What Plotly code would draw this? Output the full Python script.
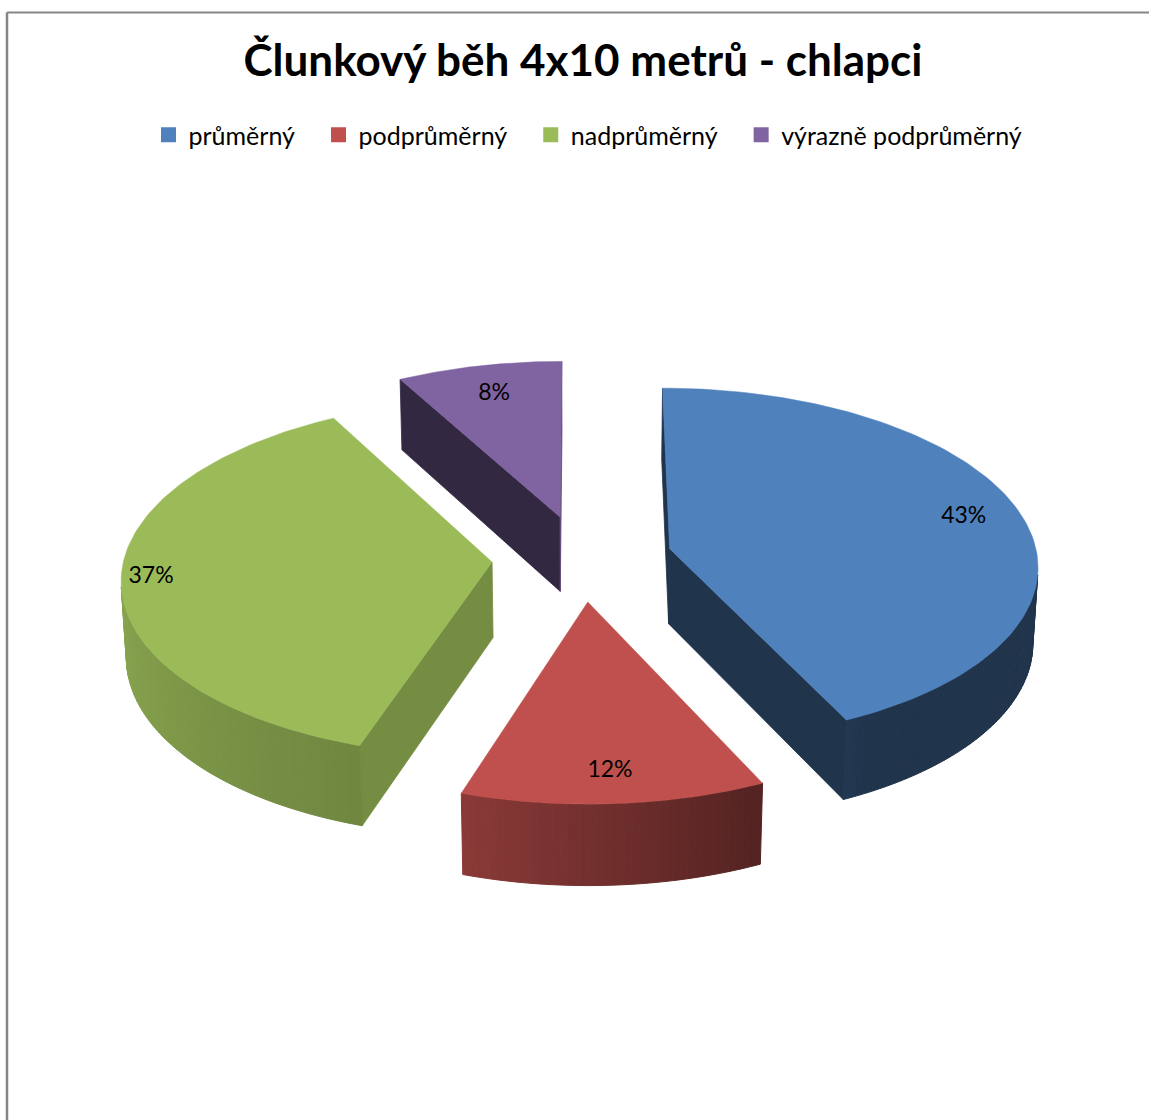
import numpy as np
import plotly.graph_objects as go

# ---- data -------------------------------------------------------------
categories = ["průměrný", "podprůměrný", "nadprůměrný", "výrazně podprůměrný"]
values = [43, 12, 37, 8]
value_labels = ["43%", "12%", "37%", "8%"]
colors = ["#4F81BD", "#C0504D", "#9BBB59", "#8064A2"]
title_text = "Člunkový běh 4x10 metrů - chlapci"

# ---- canvas / camera settings ----------------------------------------
W, H = 1149, 1120
CX, CY = 582, 558          # screen position of the pie centre
SCALE = 368                # pixels per unit radius at the centre depth
DIST = 10.0                # camera distance (unit radii)
ELEV = np.radians(28.6)    # viewing elevation
EXPLODE = 0.245            # slice explosion (unit radii)
THICK = 0.236              # pie thickness (unit radii)
LABEL_R = [0.84, 0.85, 0.92, 0.80]   # label radius on each top face

COS_E, SIN_E = np.cos(ELEV), np.sin(ELEV)
CAM = np.array([0.0, DIST * COS_E, DIST * SIN_E])


def project(u, v, h):
    """Perspective projection of world point (u right, v toward viewer, h up)."""
    depth = DIST - (v * COS_E + h * SIN_E)
    f = SCALE * DIST / depth
    yc = -v * SIN_E + h * COS_E
    return CX + f * u, CY - f * yc


def shade(hex_color, k):
    r, g, b = (int(hex_color[i:i + 2], 16) for i in (1, 3, 5))
    return "rgb({},{},{})".format(*(int(round(min(255, c * k))) for c in (r, g, b)))


def side_factor(deg):
    """Brightness of the curved outer wall as a function of its angle."""
    pts = [(0, 0.40), (150, 0.40), (198, 0.72), (270, 0.90), (360, 0.95)]
    xs, ys = zip(*pts)
    return float(np.interp(deg % 360, xs, ys))


def radial_factor(nu):
    """Brightness of a flat cut face from the x part of its normal."""
    return 0.40 + 0.37 * max(0.0, nu)


def visible(normal, point):
    return float(np.dot(normal, CAM - np.asarray(point))) > 0


fig = go.Figure()


def add_poly(pts, color, lw=0.8):
    xs, ys = zip(*[project(*p) for p in pts])
    fig.add_trace(go.Scatter(
        x=list(xs) + [xs[0]], y=list(ys) + [ys[0]], mode="lines",
        fill="toself", fillcolor=color, line=dict(color=color, width=lw),
        hoverinfo="skip", showlegend=False))


total = float(sum(values))
bounds = np.concatenate([[0.0], np.cumsum(values) / total * 2 * np.pi])

slices = []
for i, val in enumerate(values):
    t1, t2 = bounds[i], bounds[i + 1]
    tm = 0.5 * (t1 + t2)
    ou, ov = EXPLODE * np.sin(tm), -EXPLODE * np.cos(tm)
    depth = DIST - (ov + 0.5 * -np.cos(tm)) * COS_E
    slices.append((depth, i, t1, t2, tm, ou, ov))

# paint from the back to the front
slices.sort(key=lambda s: -s[0])
label_pts = []
for depth, i, t1, t2, tm, ou, ov in slices:
    col = colors[i]

    def rim(t, h, rho=1.0):
        return (ou + rho * np.sin(t), ov - rho * np.cos(t), h)

    apex_top, apex_bot = (ou, ov, 0.0), (ou, ov, -THICK)

    # flat cut faces
    for t, sgn in ((t1, -1), (t2, 1)):
        n = np.array([sgn * np.cos(t), sgn * np.sin(t), 0.0])
        if visible(n, apex_top):
            add_poly([apex_top, rim(t, 0), rim(t, -THICK), apex_bot],
                     shade(col, radial_factor(n[0])))

    # curved outer wall, in thin strips for the shading
    n_strips = max(2, int(np.degrees(t2 - t1) / 1.0))
    edges = np.linspace(t1, t2, n_strips + 1)
    for a, b in zip(edges[:-1], edges[1:]):
        m = 0.5 * (a + b)
        n = np.array([np.sin(m), -np.cos(m), 0.0])
        if visible(n, rim(m, -THICK / 2)):
            add_poly([rim(a, 0), rim(b, 0), rim(b, -THICK), rim(a, -THICK)],
                     shade(col, side_factor(np.degrees(m))), lw=1.0)

    # top face
    arc = np.linspace(t1, t2, 120)
    add_poly([apex_top] + [rim(t, 0) for t in arc], col, lw=0.5)

    label_pts.append((i, project(*rim(tm, 0, LABEL_R[i]))))

label_pts.sort()
fig.add_trace(go.Scatter(
    x=[p[1][0] for p in label_pts], y=[p[1][1] for p in label_pts],
    mode="text", text=[value_labels[p[0]] for p in label_pts],
    textfont=dict(family="Lato", size=23, color="#000000"),
    hoverinfo="skip", showlegend=False))

# legend entries (non-breaking spaces widen the gap between entries)
PAD = "\u00a0" * 3
for k, (cat, col) in enumerate(zip(categories, colors)):
    fig.add_trace(go.Scatter(
        x=[None], y=[None], mode="markers",
        name=cat + (PAD if k < len(categories) - 1 else ""),
        marker=dict(symbol="square", size=15, color=col)))

fig.update_layout(
    width=W, height=H,
    margin=dict(l=0, r=0, t=0, b=0),
    paper_bgcolor="white", plot_bgcolor="white",
    xaxis=dict(range=[0, W], visible=False, fixedrange=True),
    yaxis=dict(range=[H, 0], visible=False, fixedrange=True),
    title=dict(text="<b>" + title_text + "</b>", x=583 / W, y=1 - 61 / H,
               xanchor="center", yanchor="middle",
               font=dict(family="Lato", size=44, color="#000000")),
    showlegend=True,
    legend=dict(orientation="h", x=588 / W, xanchor="center",
                y=1 - 135 / H, yanchor="middle",
                font=dict(family="Lato", size=25, color="#000000"),
                itemwidth=30, bgcolor="rgba(0,0,0,0)"),
    shapes=[
        dict(type="line", xref="x", yref="y", x0=7, x1=7, y0=12.5, y1=H,
             line=dict(color="#868686", width=2.5)),
        dict(type="line", xref="x", yref="y", x0=7, x1=W, y0=12.5, y1=12.5,
             line=dict(color="#868686", width=2)),
    ],
)

fig.write_html("out.html")
